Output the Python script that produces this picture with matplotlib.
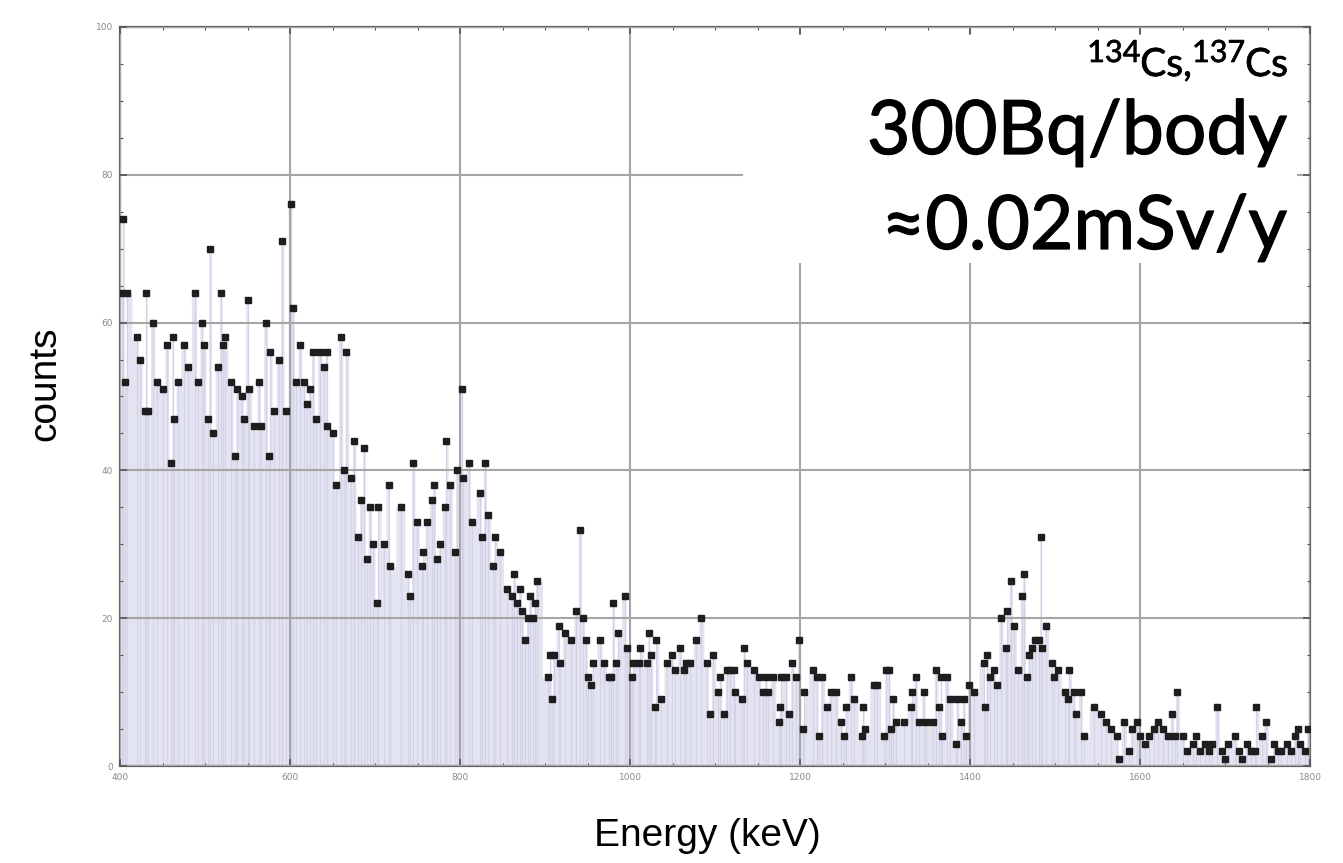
import matplotlib
matplotlib.use("Agg")
import matplotlib.pyplot as plt
import matplotlib.patheffects as pe
from matplotlib.patches import Rectangle
from matplotlib.ticker import MultipleLocator

# ---- data ----
energy_kev = [
    402, 404, 406, 408, 420, 423, 429, 431, 433, 439, 443, 451, 455, 460, 462, 464, 468, 475, 480, 488,
    492, 496, 499, 503, 506, 509, 515, 519, 521, 523, 531, 535, 538, 544, 546, 550, 552, 558, 564, 566,
    572, 575, 577, 581, 587, 591, 595, 601, 603, 607, 612, 616, 620, 624, 627, 630, 635, 640, 643, 644,
    650, 654, 660, 664, 666, 672, 675, 680, 684, 687, 690, 694, 698, 702, 704, 710, 716, 718, 731, 739,
    741, 745, 749, 755, 757, 761, 767, 769, 773, 776, 782, 784, 788, 794, 796, 802, 804, 810, 814, 824,
    826, 829, 833, 839, 841, 847, 855, 861, 863, 867, 871, 873, 876, 880, 882, 886, 888, 890, 904, 906,
    908, 910, 916, 918, 923, 931, 937, 941, 945, 948, 951, 954, 957, 965, 969, 975, 978, 980, 984, 986,
    994, 996, 1002, 1004, 1010, 1012, 1020, 1022, 1025, 1029, 1031, 1037, 1043, 1049, 1053, 1059, 1063, 1066, 1071, 1078,
    1084, 1090, 1094, 1098, 1104, 1106, 1110, 1114, 1118, 1122, 1124, 1132, 1134, 1138, 1146, 1152, 1156, 1160, 1162, 1168,
    1175, 1177, 1178, 1183, 1187, 1191, 1195, 1199, 1203, 1205, 1215, 1220, 1222, 1226, 1232, 1236, 1242, 1248, 1252, 1254,
    1260, 1264, 1273, 1274, 1277, 1287, 1291, 1299, 1301, 1305, 1307, 1309, 1313, 1322, 1330, 1332, 1336, 1340, 1346, 1348,
    1356, 1360, 1364, 1366, 1367, 1373, 1377, 1383, 1385, 1389, 1393, 1395, 1399, 1405, 1416, 1418, 1420, 1424, 1428, 1432,
    1436, 1442, 1444, 1448, 1452, 1457, 1461, 1463, 1467, 1469, 1473, 1477, 1481, 1483, 1485, 1489, 1496, 1499, 1503, 1512,
    1515, 1517, 1522, 1525, 1530, 1534, 1546, 1554, 1560, 1566, 1573, 1575, 1581, 1587, 1590, 1596, 1600, 1606, 1610, 1616,
    1621, 1627, 1633, 1638, 1641, 1643, 1650, 1655, 1662, 1666, 1671, 1676, 1681, 1685, 1691, 1696, 1700, 1704, 1712, 1716,
    1720, 1726, 1730, 1735, 1737, 1743, 1748, 1754, 1758, 1762, 1766, 1773, 1778, 1782, 1786, 1788, 1794, 1798,
]
counts = [
    64, 74, 52, 64, 58, 55, 48, 64, 48, 60, 52, 51, 57, 41, 58, 47, 52, 57, 54, 64,
    52, 60, 57, 47, 70, 45, 54, 64, 57, 58, 52, 42, 51, 50, 47, 63, 51, 46, 52, 46,
    60, 42, 56, 48, 55, 71, 48, 76, 62, 52, 57, 52, 49, 51, 56, 47, 56, 54, 56, 46,
    45, 38, 58, 40, 56, 39, 44, 31, 36, 43, 28, 35, 30, 22, 35, 30, 38, 27, 35, 26,
    23, 41, 33, 27, 29, 33, 36, 38, 28, 30, 35, 44, 38, 29, 40, 51, 39, 41, 33, 37,
    31, 41, 34, 27, 31, 29, 24, 23, 26, 22, 24, 21, 17, 20, 23, 20, 22, 25, 12, 15,
    9, 15, 19, 14, 18, 17, 21, 32, 20, 17, 12, 11, 14, 17, 14, 12, 12, 22, 14, 18,
    23, 16, 12, 14, 14, 16, 14, 18, 15, 8, 17, 9, 14, 15, 13, 16, 13, 14, 14, 17,
    20, 14, 7, 15, 10, 12, 7, 13, 13, 13, 10, 9, 16, 14, 13, 12, 10, 12, 10, 12,
    6, 8, 12, 12, 7, 14, 12, 17, 5, 10, 13, 12, 4, 12, 8, 10, 10, 6, 4, 8,
    12, 9, 4, 8, 5, 11, 11, 4, 13, 13, 5, 9, 6, 6, 8, 10, 12, 6, 10, 6,
    6, 13, 8, 12, 4, 12, 9, 3, 9, 6, 9, 4, 11, 10, 14, 8, 15, 12, 13, 11,
    20, 16, 21, 25, 19, 13, 23, 26, 12, 15, 16, 17, 17, 31, 16, 19, 14, 12, 13, 10,
    9, 13, 10, 7, 10, 4, 8, 7, 6, 5, 4, 1, 6, 2, 5, 6, 4, 3, 4, 5,
    6, 5, 4, 7, 4, 10, 4, 2, 3, 4, 2, 3, 2, 3, 8, 2, 1, 3, 4, 2,
    1, 3, 2, 2, 8, 4, 6, 1, 3, 2, 2, 3, 2, 4, 5, 3, 2, 5,
]

x_ticks = [400, 600, 800, 1000, 1200, 1400, 1600, 1800]
y_ticks = [0, 20, 40, 60, 80, 100]
x_label = "Energy (keV)"
y_label = "counts"
isotopes = ["134", "137"]
element = "Cs"
activity_text = "300Bq/body"
dose_text = "≈0.02mSv/y"

W, H = 1343, 863
fig = plt.figure(figsize=(W / 100, H / 100), dpi=100)
fig.patch.set_facecolor("white")
ax = fig.add_axes([120 / W, 1 - 766 / H, (1310 - 120) / W, (766 - 27) / H])

# filling to axis + thin drop lines + points
ax.fill_between(energy_kev, 0, counts, step="mid", color="#e4e4f1", lw=0, zorder=1.5)
ax.vlines(energy_kev, 0, counts, colors="#d2d2e8", lw=0.9, zorder=1.8)
ax.plot(energy_kev, counts, ls="none", marker="s", ms=3.7, color="#1e1e1e", zorder=4)

ax.set_xlim(400, 1800)
ax.set_ylim(0, 100)
ax.set_xticks(x_ticks)
ax.set_yticks(y_ticks)
ax.xaxis.set_minor_locator(MultipleLocator(50))
ax.yaxis.set_minor_locator(MultipleLocator(5))
ax.set_axisbelow(False)
ax.grid(True, which="major", color="#a5a5a5", lw=1.5)
ax.tick_params(which="both", direction="in", top=True, right=True, color="#555555",
               labelcolor="#8a8a8a", labelsize=6.5)
ax.tick_params(which="major", length=5, width=1.2, pad=5)
ax.tick_params(which="minor", length=2.5, width=0.8)
for sp in ax.spines.values():
    sp.set_color("#666666")
    sp.set_linewidth(1.6)

# white label box
ax.add_patch(Rectangle((1133, 68), 652, 30.9, facecolor="white", edgecolor="none", zorder=3))

fam = ["Lato", "DejaVu Sans"]
big_fx = [pe.withStroke(linewidth=0.9, foreground="black")]
small_fx = [pe.withStroke(linewidth=0.5, foreground="black")]

fig.text(1287 / W, 1 - 154 / H, activity_text, ha="right", va="baseline", fontsize=54,
         family=fam, path_effects=big_fx)
fig.text(1287 / W, 1 - 249 / H, dose_text, ha="right", va="baseline", fontsize=54,
         family=fam, path_effects=big_fx)

# first line: superscript mass numbers built piece by piece, right aligned
renderer = fig.canvas.get_renderer()
pieces = [(element, 28, 0), (isotopes[1], 22, 14), (element + ",", 28, 0), (isotopes[0], 22, 14)]
xr = 1288.0
for txt, size, dy in pieces:
    t = fig.text(xr / W, 1 - (76 - dy) / H, txt, ha="right", va="baseline", fontsize=size,
                 family=fam, path_effects=small_fx)
    bb = t.get_window_extent(renderer)
    xr = bb.x0

fig.text(45 / W, 1 - 384 / H, y_label, rotation=90, ha="center", va="center",
         fontsize=28, family="Liberation Sans")
fig.text(707 / W, 1 - 836 / H, x_label, ha="center", va="center",
         fontsize=28, family="Liberation Sans")

fig.savefig("out.png", dpi=100)
